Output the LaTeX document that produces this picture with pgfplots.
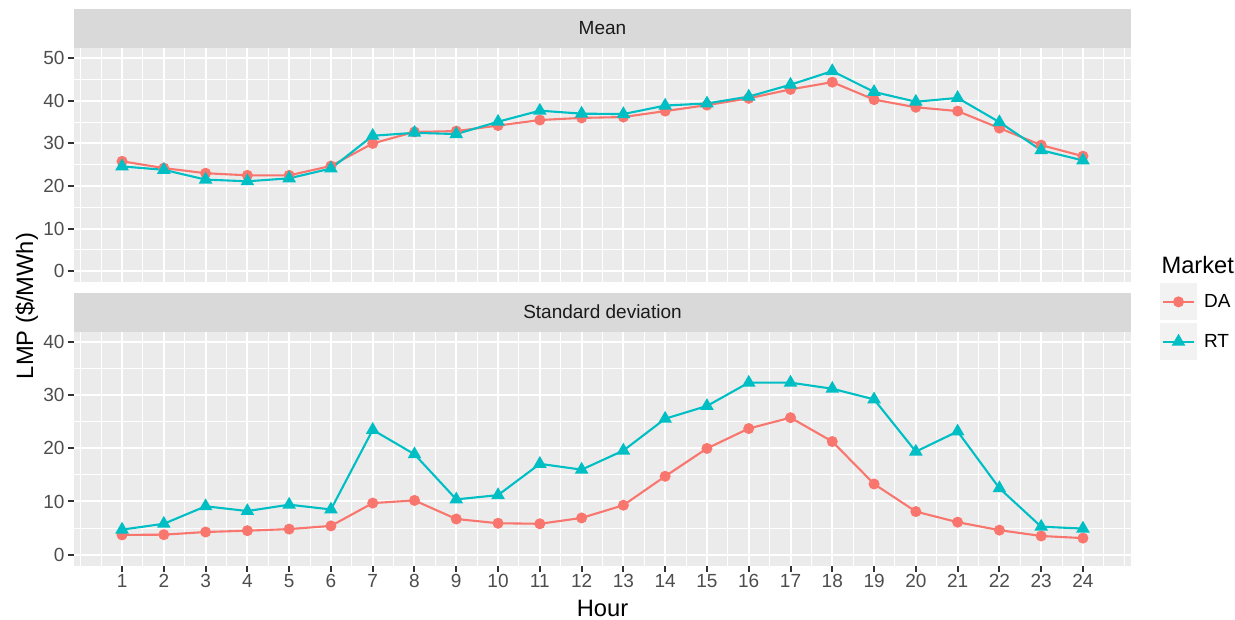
\documentclass[border=0pt]{standalone}
\usepackage{pgfplots}
\pgfplotsset{compat=1.18}
\usepackage{fontspec}
\setmainfont{Liberation Sans}
\definecolor{da}{HTML}{F8766D}
\definecolor{rt}{HTML}{00BFC4}
\definecolor{panel}{HTML}{EBEBEB}
\definecolor{strip}{HTML}{D9D9D9}
\definecolor{legkey}{HTML}{F2F2F2}
\definecolor{ticklab}{HTML}{4D4D4D}
\definecolor{tickc}{HTML}{333333}
\definecolor{striptext}{HTML}{1A1A1A}

\pgfplotstableread{
h  da    rt
1  25.8  24.6
2  24.2  23.8
3  23.0  21.5
4  22.5  21.1
5  22.5  21.8
6  24.7  24.1
7  30.0  31.8
8  32.7  32.5
9  32.9  32.2
10 34.2  35.1
11 35.5  37.7
12 36.0  37.0
13 36.2  36.9
14 37.6  38.9
15 39.0  39.4
16 40.6  41.0
17 42.7  43.8
18 44.4  47.0
19 40.3  42.1
20 38.5  39.8
21 37.6  40.7
22 33.6  35.0
23 29.6  28.4
24 27.0  26.0
}\meantab

\pgfplotstableread{
h  da    rt
1  3.7   4.7
2  3.75  5.8
3  4.25  9.1
4  4.5   8.2
5  4.8   9.4
6  5.4   8.5
7  9.7   23.5
8  10.2  18.9
9  6.7   10.4
10 5.9   11.2
11 5.8   17.1
12 6.9   16.0
13 9.3   19.6
14 14.75 25.6
15 20.0  28.0
16 23.75 32.4
17 25.8  32.4
18 21.3  31.25
19 13.3  29.25
20 8.1   19.4
21 6.1   23.2
22 4.6   12.5
23 3.5   5.25
24 3.1   4.9
}\sdtab

\pgfplotsset{
  ggp/.style={
    scale only axis, width=1057pt, height=234pt,
    xmin=-0.15, xmax=25.15,
    xtick={1,...,24}, minor xtick={0,0.5,...,25},
    grid=both,
    major grid style={white, line width=2pt},
    minor grid style={white, line width=1pt},
    axis background/.style={fill=panel},
    axis line style={draw=none},
    tick align=outside,
    major tick length=6pt, minor tick length=0pt,
    major tick style={line width=2pt, draw=tickc},
    minor tick style={draw=none},
    xtick pos=bottom, ytick pos=left,
    /pgf/number format/assume math mode=true,
    tick label style={font=\fontsize{19}{21}\selectfont, text=ticklab},
    xticklabel style={inner sep=2.3pt},
    every axis title/.style={at={(0.5,1)}, anchor=south, fill=strip,
      minimum width=1057pt, minimum height=38.7pt, inner sep=0pt,
      font=\fontsize{19}{21}\selectfont, text=striptext},
    legend image code/.code={
      \fill[legkey] (-2pt,-17.5pt) rectangle (33pt,17.5pt);
      \draw[mark repeat=2,mark phase=2] plot coordinates {(0pt,0pt) (15.5pt,0pt) (31pt,0pt)};
    },
  },
  daplot/.style={color=da, line width=2.1pt, mark=*, mark size=4.4pt, mark options={solid}},
  rtplot/.style={color=rt, line width=2.1pt, mark=triangle*, mark size=5.8pt, mark options={solid}},
}

\begin{document}
\begin{tikzpicture}[x=1pt,y=1pt]
\useasboundingbox (0,0) rectangle (1235,-620);

\begin{axis}[ggp, at={(74pt,-281.7pt)}, anchor=south west,
  ymin=-2.5, ymax=52.5, ytick={0,10,...,50}, minor ytick={5,15,...,45},
  xticklabels={}, xtick style={draw=none},
  title={Mean}]
\addplot[daplot] table[x=h,y=da] {\meantab};
\addplot[rtplot] table[x=h,y=rt] {\meantab};
\end{axis}

\begin{axis}[ggp, at={(74pt,-565.7pt)}, anchor=south west,
  ymin=-2.1, ymax=42, ytick={0,10,...,40}, minor ytick={5,15,...,35},
  title={Standard deviation},
  xlabel={Hour},
  xlabel style={at={(axis description cs:0.5,0)}, anchor=base, yshift=-51pt,
    font=\fontsize{23.7}{26}\selectfont, text=black},
  legend cell align=left,
  legend style={at={(axis description cs:1.0274,1.2068)}, anchor=north west,
    draw=none, fill=none, inner sep=0pt, outer sep=0pt,
    row sep=2.7pt, column sep=7pt,
    font=\fontsize{19}{21}\selectfont,
    nodes={inner sep=0pt, anchor=west}},
  ]
\addplot[daplot] table[x=h,y=da] {\sdtab};
\addlegendentry{DA}
\addplot[rtplot] table[x=h,y=rt] {\sdtab};
\addlegendentry{RT}
\end{axis}

\node[rotate=90, anchor=base, font=\fontsize{23.7}{26}\selectfont] at (33,-306) {LMP (\$/MWh)};
\node[anchor=base west, font=\fontsize{23.7}{26}\selectfont] at (1158,-273.3) {Market};
\end{tikzpicture}
\end{document}
